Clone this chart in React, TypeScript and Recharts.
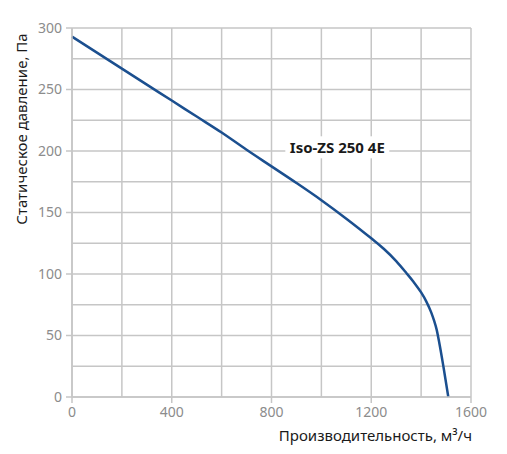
import { CartesianGrid, Label, Line, LineChart, ReferenceDot, XAxis, YAxis } from "recharts";

const flow = [0, 100, 200, 300, 400, 500, 600, 700, 800, 900, 1000, 1100, 1200, 1250, 1300, 1340, 1370, 1400, 1420, 1440, 1452, 1462, 1472, 1490, 1509];
const pressure = [293, 280, 267, 254, 241, 228, 215, 201, 187.5, 174, 160, 145, 129, 120.5, 110.5, 101, 93.5, 85, 78, 69, 62, 55, 45, 24, 0];

const xTicks = [0, 200, 400, 600, 800, 1000, 1200, 1400, 1600];
const yTicks = [0, 25, 50, 75, 100, 125, 150, 175, 200, 225, 250, 275, 300];

const seriesName = "Iso-ZS 250 4E";
const labelAt = { x: 1064, y: 203 };

const data = flow.map((q, i) => ({ q, p: pressure[i] }));

const FONT = "'Noto Sans', 'Open Sans', sans-serif";
const GRID = "#c6c6c6";
const TICK_TEXT = "#8c8c8c";

const YTick = (props: any) => {
  const { x, y, payload } = props;
  if (payload.value % 50 !== 0) return null;
  return (
    <g>
      <line x1={x + 4} x2={x + 10} y1={y} y2={y} stroke={GRID} strokeWidth={1.5} />
      <text x={x} y={y} dy="0.35em" textAnchor="end" fill={TICK_TEXT} fontSize={14} fontFamily={FONT}>
        {payload.value}
      </text>
    </g>
  );
};

const XTick = (props: any) => {
  const { x, y, payload } = props;
  if (payload.value % 400 !== 0) return null;
  return (
    <g>
      <line x1={x} x2={x} y1={y - 10} y2={y - 4} stroke={GRID} strokeWidth={1.5} />
      <text x={x} y={y} dy="0.71em" textAnchor="middle" fill={TICK_TEXT} fontSize={14} fontFamily={FONT}>
        {payload.value}
      </text>
    </g>
  );
};

const SeriesLabel = (props: any) => {
  const vb = props.viewBox || {};
  const cx = (vb.x ?? 0) + (vb.width ?? 0) / 2;
  const cy = (vb.y ?? 0) + (vb.height ?? 0) / 2;
  return (
    <g>
      <rect x={cx - 52} y={cy - 11} width={104} height={22} fill="#ffffff" />
      <text x={cx} y={cy} dy="0.35em" textAnchor="middle" fontSize={15} fontWeight="bold" fill="#1a1a1a" fontFamily={FONT}>
        {seriesName}
      </text>
    </g>
  );
};

export default function App() {
  return (
    <div style={{ position: "absolute", left: 0, top: 0, background: "#fff" }}>
      <LineChart width={507} height={454} data={data} margin={{ top: 28, right: 36, bottom: 0, left: 0 }}>
        <CartesianGrid stroke={GRID} strokeWidth={1.5} />
        <XAxis
          dataKey="q"
          type="number"
          domain={[0, 1600]}
          ticks={xTicks}
          interval={0}
          height={57}
          tickSize={6}
          tickMargin={4}
          tickLine={false}
          axisLine={{ stroke: GRID, strokeWidth: 1.5 }}
          tick={<XTick />}
        >
          <Label
            content={() => (
              <text x={472} y={441} textAnchor="end" fontSize={15} fill="#1a1a1a" fontFamily={FONT}>
                Производительность, м³/ч
              </text>
            )}
          />
        </XAxis>
        <YAxis
          type="number"
          domain={[0, 300]}
          ticks={yTicks}
          interval={0}
          width={72}
          tickSize={6}
          tickMargin={4}
          tickLine={false}
          axisLine={{ stroke: GRID, strokeWidth: 1.5 }}
          tick={<YTick />}
        >
          <Label
            content={() => (
              <text
                x={22}
                y={129}
                transform="rotate(-90 22 129)"
                dy="0.35em"
                textAnchor="middle"
                fontSize={15}
                fill="#1a1a1a"
                fontFamily={FONT}
              >
                Статическое давление, Па
              </text>
            )}
          />
        </YAxis>
        <Line
          type="monotone"
          dataKey="p"
          stroke="#1b4f8f"
          strokeWidth={2.5}
          dot={false}
          isAnimationActive={false}
        />
        <ReferenceDot x={labelAt.x} y={labelAt.y} r={0} stroke="none" fill="none" label={<SeriesLabel />} />
      </LineChart>
    </div>
  );
}
